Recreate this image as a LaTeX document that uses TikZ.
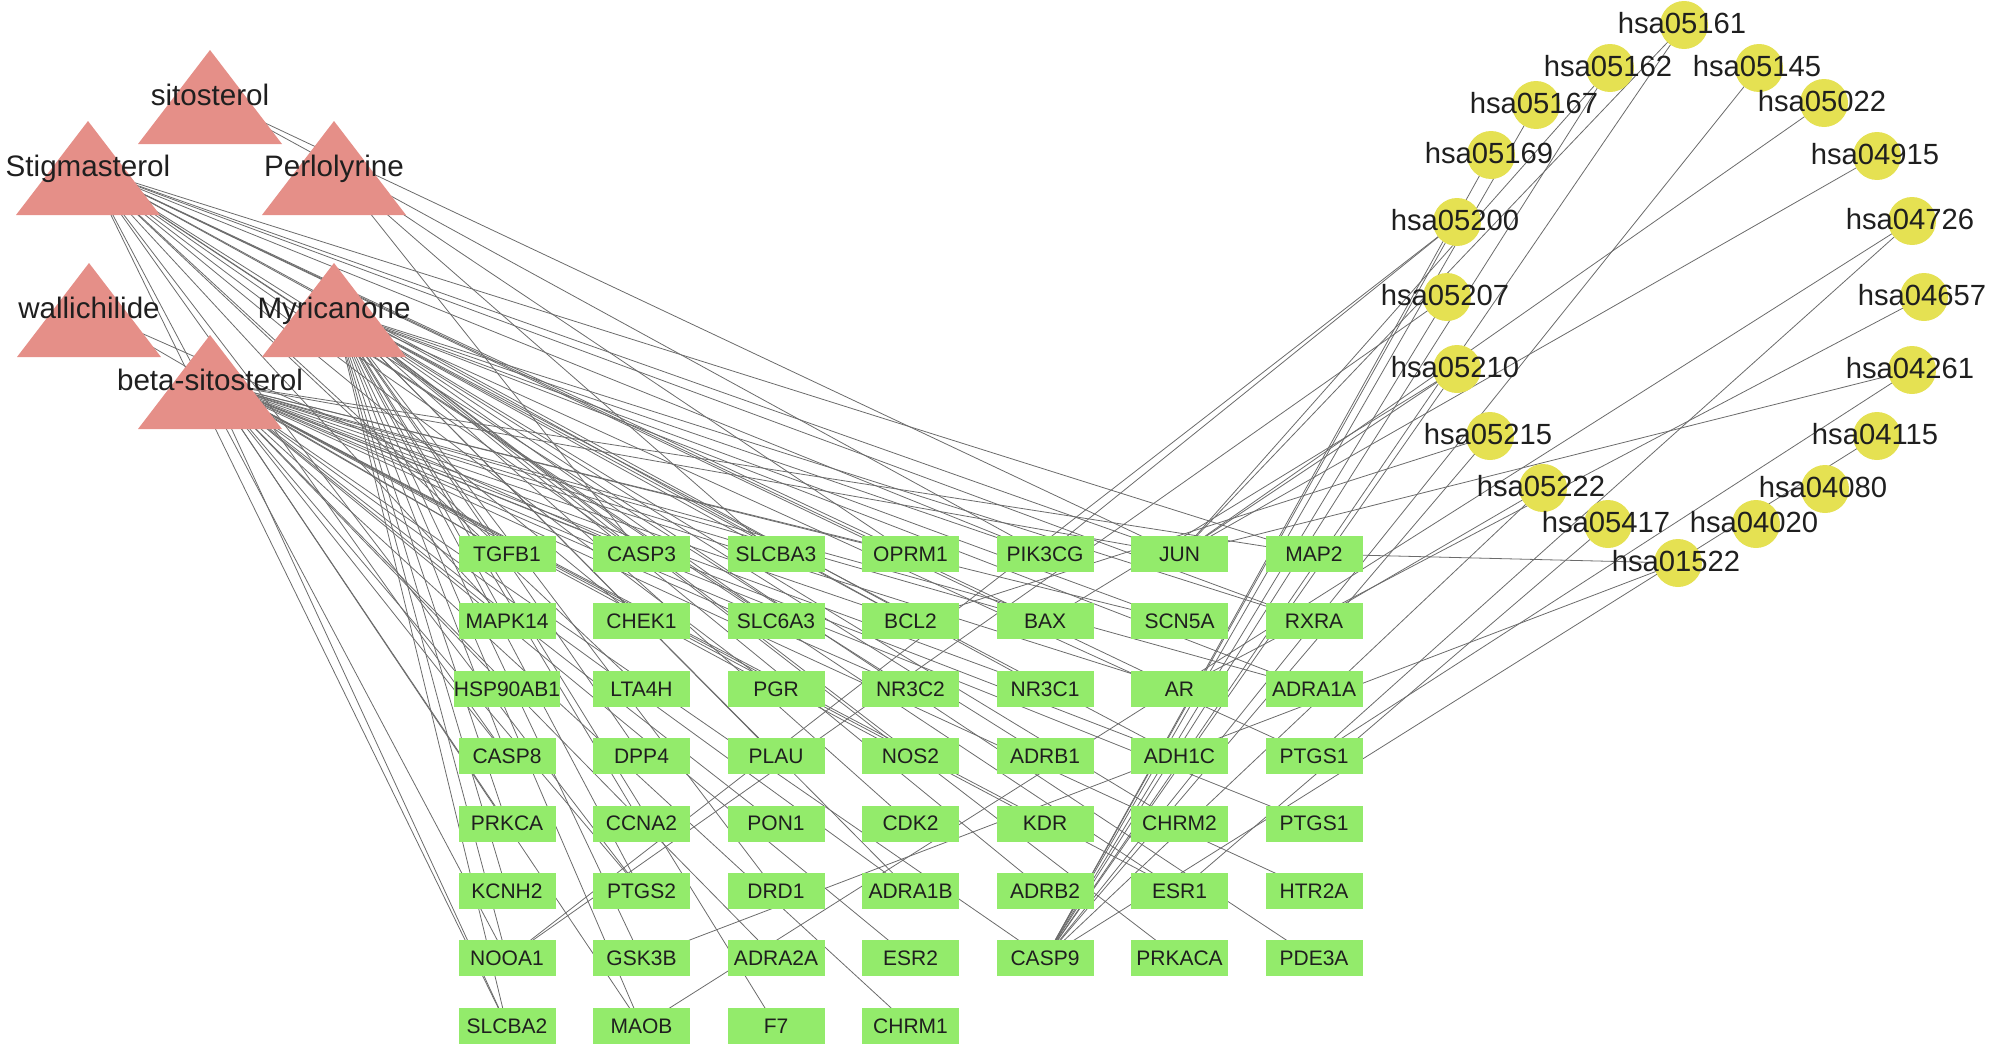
\documentclass[tikz,border=0pt]{standalone}
\usepackage{fontspec}
\setmainfont{Liberation Sans}
\usetikzlibrary{backgrounds}
\definecolor{trired}{HTML}{E58F88}
\definecolor{genegreen}{HTML}{93EB6B}
\definecolor{pwyellow}{HTML}{E5E152}
\newcommand\cmpd[4]{%
  \fill[tri] (#1-72,#2+47) -- (#1+72,#2+47) -- (#1,#2-47) -- cycle;
  \coordinate (#3) at (#1,#2);
  \node[trilabel, anchor=base] at (#1,#2+8) {#4};}
\newcommand\gn[4]{\node[gene] (#1) at (#2,#3) {#4};}
\newcommand\pwc[3]{\node[pw] (h#1) at (#2,#3) {};}
\newcommand\pwl[3]{\node[pwtext, anchor=base] at (#2-2,#3+8.5) {hsa#1};}
\begin{document}
\begin{tikzpicture}[x=0.5pt,y=-0.5pt,
  gene/.style={rectangle, fill=genegreen, minimum width=48.5pt, minimum height=18pt, inner sep=0pt, font=\fontsize{10.5}{12}\selectfont, text=black!88},
  pw/.style={circle, fill=pwyellow, minimum size=24pt, inner sep=0pt},
  pwtext/.style={font=\fontsize{14.6}{16}\selectfont, text=black!88, inner sep=0pt},
  tri/.style={fill=trired},
  trilabel/.style={font=\fontsize{14.8}{16}\selectfont, text=black!88, inner sep=0pt},
  edge/.style={line width=0.4pt, draw=black!58}]
\useasboundingbox (0,0) rectangle (2000,1044);

% compounds
\cmpd{210}{97}{sito}{sitosterol}
\cmpd{88}{168}{stig}{Stigmasterol}
\cmpd{334}{168}{perl}{Perlolyrine}
\cmpd{89}{310}{wall}{wallichilide}
\cmpd{334}{310}{myr}{Myricanone}
\cmpd{210}{382}{bsit}{beta-sitosterol}

% targets, column 1
\gn{tgfb1}{507}{554}{TGFB1}
\gn{mapk14}{507}{621.4}{MAPK14}
\gn{hsp90}{507}{688.8}{HSP90AB1}
\gn{casp8}{507}{756.2}{CASP8}
\gn{prkca}{507}{823.6}{PRKCA}
\gn{kcnh2}{507}{891}{KCNH2}
\gn{nooa1}{507}{958.4}{NOOA1}
\gn{slcba2}{507}{1025.8}{SLCBA2}
% column 2
\gn{casp3}{641.5}{554}{CASP3}
\gn{chek1}{641.5}{621.4}{CHEK1}
\gn{lta4h}{641.5}{688.8}{LTA4H}
\gn{dpp4}{641.5}{756.2}{DPP4}
\gn{ccna2}{641.5}{823.6}{CCNA2}
\gn{ptgs2}{641.5}{891}{PTGS2}
\gn{gsk3b}{641.5}{958.4}{GSK3B}
\gn{maob}{641.5}{1025.8}{MAOB}
% column 3
\gn{slcba3}{776}{554}{SLCBA3}
\gn{slc6a3}{776}{621.4}{SLC6A3}
\gn{pgr}{776}{688.8}{PGR}
\gn{plau}{776}{756.2}{PLAU}
\gn{pon1}{776}{823.6}{PON1}
\gn{drd1}{776}{891}{DRD1}
\gn{adra2a}{776}{958.4}{ADRA2A}
\gn{f7}{776}{1025.8}{F7}
% column 4
\gn{oprm1}{910.5}{554}{OPRM1}
\gn{bcl2}{910.5}{621.4}{BCL2}
\gn{nr3c2}{910.5}{688.8}{NR3C2}
\gn{nos2}{910.5}{756.2}{NOS2}
\gn{cdk2}{910.5}{823.6}{CDK2}
\gn{adra1b}{910.5}{891}{ADRA1B}
\gn{esr2}{910.5}{958.4}{ESR2}
\gn{chrm1}{910.5}{1025.8}{CHRM1}
% column 5
\gn{pik3cg}{1045}{554}{PIK3CG}
\gn{bax}{1045}{621.4}{BAX}
\gn{nr3c1}{1045}{688.8}{NR3C1}
\gn{adrb1}{1045}{756.2}{ADRB1}
\gn{kdr}{1045}{823.6}{KDR}
\gn{adrb2}{1045}{891}{ADRB2}
\gn{casp9}{1045}{958.4}{CASP9}
% column 6
\gn{jun}{1179.5}{554}{JUN}
\gn{scn5a}{1179.5}{621.4}{SCN5A}
\gn{ar}{1179.5}{688.8}{AR}
\gn{adh1c}{1179.5}{756.2}{ADH1C}
\gn{chrm2}{1179.5}{823.6}{CHRM2}
\gn{esr1}{1179.5}{891}{ESR1}
\gn{prkaca}{1179.5}{958.4}{PRKACA}
% column 7
\gn{map2}{1314}{554}{MAP2}
\gn{rxra}{1314}{621.4}{RXRA}
\gn{adra1a}{1314}{688.8}{ADRA1A}
\gn{ptgs1a}{1314}{756.2}{PTGS1}
\gn{ptgs1b}{1314}{823.6}{PTGS1}
\gn{htr2a}{1314}{891}{HTR2A}
\gn{pde3a}{1314}{958.4}{PDE3A}

% pathways
\pwc{05161}{1684}{25}
\pwc{05162}{1610}{68}
\pwc{05145}{1759}{68}
\pwc{05022}{1824}{103}
\pwc{05167}{1536}{105}
\pwc{05169}{1491}{155}
\pwc{04915}{1877}{156}
\pwc{05200}{1457}{222}
\pwc{04726}{1912}{221}
\pwc{05207}{1447}{297}
\pwc{04657}{1924}{297}
\pwc{05210}{1457}{369}
\pwc{04261}{1912}{370}
\pwc{05215}{1490}{436}
\pwc{04115}{1877}{436}
\pwc{05222}{1543}{488}
\pwc{04080}{1825}{489}
\pwc{05417}{1608}{524}
\pwc{04020}{1756}{524}
\pwc{01522}{1678}{563}
\pwl{05161}{1684}{25}
\pwl{05162}{1610}{68}
\pwl{05145}{1759}{68}
\pwl{05022}{1824}{103}
\pwl{05167}{1536}{105}
\pwl{05169}{1491}{155}
\pwl{04915}{1877}{156}
\pwl{05200}{1457}{222}
\pwl{04726}{1912}{221}
\pwl{05207}{1447}{297}
\pwl{04657}{1924}{297}
\pwl{05210}{1457}{369}
\pwl{04261}{1912}{370}
\pwl{05215}{1490}{436}
\pwl{04115}{1877}{436}
\pwl{05222}{1543}{488}
\pwl{04080}{1825}{489}
\pwl{05417}{1608}{524}
\pwl{04020}{1756}{524}
\pwl{01522}{1678}{563}

\begin{scope}[on background layer]
% compound - target
\foreach \b in {tgfb1, mapk14, casp8, nooa1, slcba2, casp3, chek1, lta4h, ptgs2, slc6a3, pgr, nr3c2, oprm1, bcl2, pik3cg, bax, nr3c1, jun, ar, map2, rxra, esr1}
  \draw[edge] (stig.center) -- (\b.center);
\foreach \b in {tgfb1, mapk14, casp8, prkca, kcnh2, nooa1, slcba2, casp3, dpp4, ccna2, ptgs2, gsk3b, maob, slcba3, slc6a3, plau, drd1, f7, bcl2, nos2, cdk2, adra1b, pik3cg, adrb1, adrb2, scn5a, adh1c, chrm2, prkaca, rxra, adra1a, ptgs1a, pde3a}
  \draw[edge] (myr.center) -- (\b.center);
\foreach \b in {tgfb1, mapk14, hsp90, casp8, prkca, slcba2, casp3, ptgs2, maob, slcba3, slc6a3, pgr, pon1, adra2a, oprm1, bcl2, nr3c2, nos2, adra1b, chrm1, esr2, bax, nr3c1, kdr, casp9, jun, scn5a, ar, adh1c, esr1, map2, adra1a, ptgs1b, htr2a}
  \draw[edge] (bsit.center) -- (\b.center);
\foreach \b in {casp3, slcba3, oprm1}
  \draw[edge] (perl.center) -- (\b.center);
\foreach \b in {pik3cg, jun}
  \draw[edge] (sito.center) -- (\b.center);
\foreach \b in {casp3, tgfb1}
  \draw[edge] (wall.center) -- (\b.center);
% target - pathway
\foreach \a/\b in {casp9/h05161, casp9/h05162, casp9/h05167, casp9/h05169, casp9/h05200, casp9/h05207, casp9/h05210, casp9/h05215, casp9/h05222, casp9/h05145, casp9/h04115,
  pik3cg/h05200, jun/h04261, jun/h04915, jun/h05022, jun/h05162, jun/h05161, jun/h05210,
  map2/h01522, bax/h05210, rxra/h05222, ar/h04657, esr1/h05417, ptgs1a/h04726, ptgs1a/h04261,
  nooa1/h05200, nooa1/h05207, gsk3b/h01522, maob/h04726, bcl2/h05215}
  \draw[edge] (\a.center) -- (\b.center);
\end{scope}
\end{tikzpicture}
\end{document}
